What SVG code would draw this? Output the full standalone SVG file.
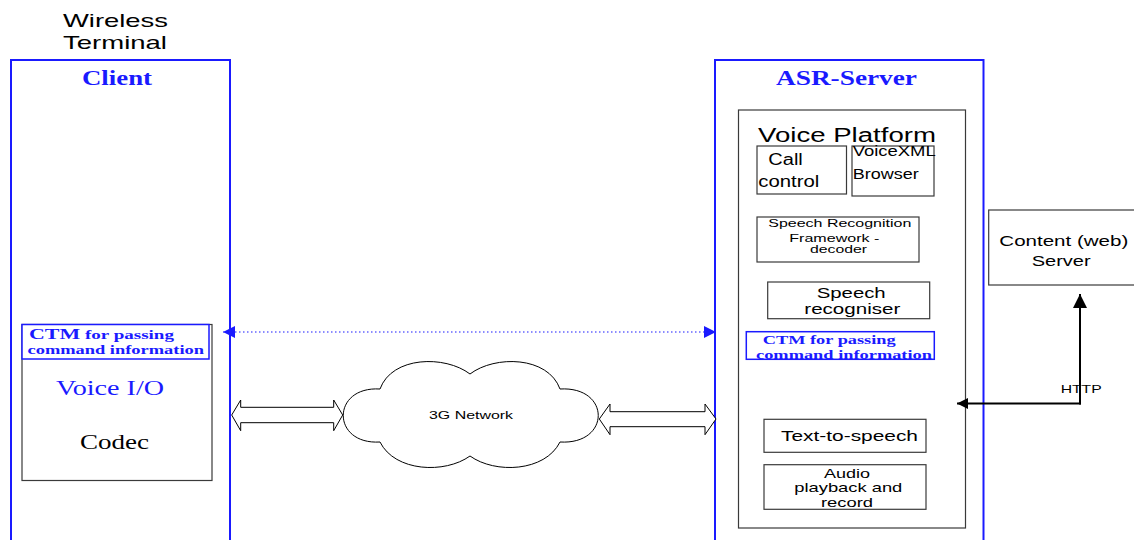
<svg xmlns="http://www.w3.org/2000/svg" width="1134" height="540" viewBox="0 0 1134 540">
  <style>
    .outer { fill: none; stroke: #1a1aff; stroke-width: 2; }
    .box { fill: #ffffff; stroke: #3a3a3a; stroke-width: 1.2; }
    .ctm { fill: #ffffff; stroke: #1a1aff; stroke-width: 1.5; }
    .sans { font-family: "Liberation Sans", Arial, sans-serif; fill: #000000; }
    .serif { font-family: "Liberation Serif", "Times New Roman", serif; }
    .title { font-weight: bold; font-size: 20px; fill: #1a1aff; }
    .ctmtxt { font-weight: bold; fill: #1a1aff; }
    .block { fill: #ffffff; stroke: #000000; stroke-width: 1; }
    .dotted { stroke: #1a1aff; stroke-width: 1.2; stroke-dasharray: 1.5 2.5; fill: none; }
    .http { stroke: #000000; stroke-width: 2; fill: none; }
  </style>
  <defs>
    <marker id="blueHead" viewBox="0 0 10 10" refX="10" refY="5" markerWidth="17" markerHeight="12" markerUnits="userSpaceOnUse" orient="auto-start-reverse">
      <path d="M0,0 L10,5 L0,10 Z" fill="#1a1aff"/>
    </marker>
    <marker id="blackHeadV" viewBox="0 0 10 10" refX="10" refY="5" markerWidth="14" markerHeight="14" markerUnits="userSpaceOnUse" orient="auto">
      <path d="M0,0 L10,5 L0,10 Z" fill="#000000"/>
    </marker>
    <marker id="blackHeadH" viewBox="0 0 10 10" refX="10" refY="5" markerWidth="20" markerHeight="11" markerUnits="userSpaceOnUse" orient="auto">
      <path d="M0,0 L10,5 L0,10 Z" fill="#000000"/>
    </marker>
  </defs>

  <rect width="1134" height="540" fill="#ffffff"/>

  <!-- Wireless terminal caption -->
  <g id="caption">
    <text class="sans" x="63" y="27" font-size="19" textLength="105" lengthAdjust="spacingAndGlyphs">Wireless</text>
    <text class="sans" x="63" y="48.5" font-size="19" textLength="104" lengthAdjust="spacingAndGlyphs">Terminal</text>
  </g>

  <!-- Client side -->
  <g id="client">
    <rect class="outer" x="11" y="60" width="219" height="500"/>
    <text class="serif title" x="82" y="85" textLength="70" lengthAdjust="spacingAndGlyphs">Client</text>
  </g>

  <g id="client-io">
    <rect class="box" x="22" y="324.5" width="190" height="156"/>
    <rect class="ctm" x="22" y="324.5" width="187" height="34.5"/>
    <text class="serif ctmtxt" x="29" y="339.3" textLength="145" lengthAdjust="spacingAndGlyphs"><tspan font-size="15">CTM</tspan><tspan font-size="13"> for passing</tspan></text>
    <text class="serif ctmtxt" x="27.5" y="354.3" font-size="13" textLength="176.5" lengthAdjust="spacingAndGlyphs">command information</text>
    <text class="serif" x="56" y="395" font-size="20" fill="#1a1aff" textLength="108" lengthAdjust="spacingAndGlyphs">Voice I/O</text>
    <text class="serif" x="80" y="449" font-size="20" fill="#000000" textLength="69" lengthAdjust="spacingAndGlyphs">Codec</text>
  </g>

  <!-- ASR server side -->
  <g id="asr-server">
    <rect class="outer" x="715" y="60" width="268.5" height="500"/>
    <text class="serif title" x="776" y="85" textLength="141" lengthAdjust="spacingAndGlyphs">ASR-Server</text>
  </g>

  <g id="voice-platform">
    <rect class="box" x="738.5" y="110" width="227" height="418"/>
    <text class="sans" x="758" y="141.7" font-size="20" textLength="178" lengthAdjust="spacingAndGlyphs">Voice Platform</text>
  </g>

  <g id="call-control">
    <rect class="box" x="757" y="146" width="89.5" height="48"/>
    <text class="sans" x="768.3" y="165" font-size="16" textLength="34.5" lengthAdjust="spacingAndGlyphs">Call</text>
    <text class="sans" x="758.3" y="187.3" font-size="16" textLength="61" lengthAdjust="spacingAndGlyphs">control</text>
  </g>

  <g id="voicexml-browser">
    <rect class="box" x="852" y="146" width="82" height="50"/>
    <text class="sans" x="852.7" y="156" font-size="14" textLength="83" lengthAdjust="spacingAndGlyphs">VoiceXML</text>
    <text class="sans" x="852.7" y="179" font-size="14" textLength="66" lengthAdjust="spacingAndGlyphs">Browser</text>
  </g>

  <g id="recognition-framework">
    <rect class="box" x="757" y="217" width="162" height="45"/>
    <text class="sans" x="768.3" y="227.3" font-size="11.5" textLength="143" lengthAdjust="spacingAndGlyphs">Speech Recognition</text>
    <text class="sans" x="789.3" y="241.5" font-size="11.5" textLength="90" lengthAdjust="spacingAndGlyphs">Framework -</text>
    <text class="sans" x="810" y="253.3" font-size="11.5" textLength="57" lengthAdjust="spacingAndGlyphs">decoder</text>
  </g>

  <g id="speech-recogniser">
    <rect class="box" x="767.7" y="282" width="162" height="36.7"/>
    <text class="sans" x="816.7" y="298.3" font-size="15" textLength="69" lengthAdjust="spacingAndGlyphs">Speech</text>
    <text class="sans" x="804.3" y="314" font-size="15" textLength="96" lengthAdjust="spacingAndGlyphs">recogniser</text>
  </g>

  <g id="server-ctm">
    <rect class="ctm" x="746.3" y="331.7" width="188" height="27.6"/>
    <text class="serif ctmtxt" x="762.7" y="344" font-size="13" textLength="133" lengthAdjust="spacingAndGlyphs">CTM for passing</text>
    <text class="serif ctmtxt" x="756" y="358.7" font-size="13" textLength="176" lengthAdjust="spacingAndGlyphs">command information</text>
  </g>

  <g id="text-to-speech">
    <rect class="box" x="764" y="419.3" width="162" height="33"/>
    <text class="sans" x="781" y="440.7" font-size="15" textLength="137" lengthAdjust="spacingAndGlyphs">Text-to-speech</text>
  </g>

  <g id="audio">
    <rect class="box" x="764" y="464.7" width="162" height="44.6"/>
    <text class="sans" x="824" y="477.7" font-size="13" textLength="46" lengthAdjust="spacingAndGlyphs">Audio</text>
    <text class="sans" x="794.3" y="492.3" font-size="13" textLength="108" lengthAdjust="spacingAndGlyphs">playback and</text>
    <text class="sans" x="821" y="506.7" font-size="13" textLength="52" lengthAdjust="spacingAndGlyphs">record</text>
  </g>

  <!-- Content (web) server -->
  <g id="content-server">
    <rect class="box" x="988.7" y="210" width="160" height="75"/>
    <text class="sans" x="999.3" y="245.7" font-size="15" textLength="129" lengthAdjust="spacingAndGlyphs">Content (web)</text>
    <text class="sans" x="1031.7" y="265.7" font-size="15" textLength="59" lengthAdjust="spacingAndGlyphs">Server</text>
  </g>

  <!-- 3G network cloud -->
  <g id="network">
    <path class="block" d="M380,389 C392,356 445,355 470,374 C495,355 548,356 560,389 C611,386 611,445 560,442 C545,472 495,474 470,456 C445,474 395,472 380,442 C331,445 331,386 380,389 Z"/>
    <text class="sans" x="429" y="419" font-size="11" textLength="84" lengthAdjust="spacingAndGlyphs">3G Network</text>
  </g>

  <!-- Connectors -->
  <g id="connectors">
    <!-- CTM signalling between client and server -->
    <line class="dotted" x1="223" y1="332" x2="716" y2="332" marker-start="url(#blueHead)" marker-end="url(#blueHead)"/>
    <!-- Double block arrows to the network -->
    <polygon class="block" points="231.7,415 240.7,400 240.7,407.3 333.7,407.3 333.7,400 342.7,415 333.7,430.7 333.7,422.7 240.7,422.7 240.7,430.7"/>
    <polygon class="block" points="599.3,419 610,404 610,411.7 705,411.7 705,404 716,419 705,434.7 705,426.7 610,426.7 610,434.7"/>
    <!-- HTTP link -->
    <line class="http" x1="1080" y1="404.5" x2="1080" y2="294" marker-end="url(#blackHeadV)"/>
    <polyline class="http" points="1081,403.5 1080,403.5 957,403.5" marker-end="url(#blackHeadH)"/>
    <text class="sans" x="1060.7" y="392.7" font-size="10.5" textLength="41" lengthAdjust="spacingAndGlyphs">HTTP</text>
  </g>
</svg>
